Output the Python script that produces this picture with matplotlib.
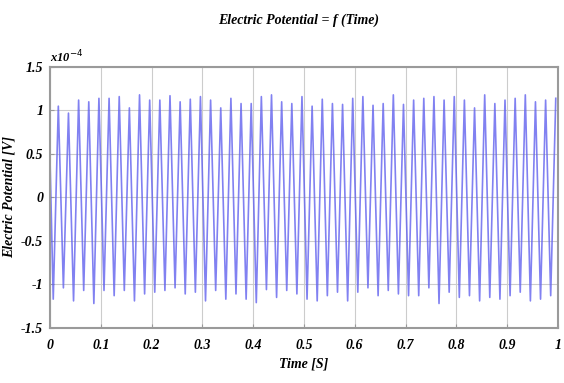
import matplotlib
matplotlib.use("Agg")
import matplotlib.pyplot as plt
import numpy as np

# signal extremes, in units of 1e-4 V
peaks_e4 = [1.05, 0.97, 1.12, 1.10, 1.14, 1.14, 1.16, 1.03, 1.18, 1.12,
            1.12, 1.17, 1.10, 1.13, 1.16, 1.12, 1.03, 1.14, 1.08, 1.08,
            1.16, 1.18, 1.10, 1.08, 1.16, 1.05, 1.13, 1.08, 1.07, 1.14,
            1.16, 1.06, 1.08, 1.18, 1.07, 1.12, 1.14, 1.16, 1.12, 1.16,
            1.12, 1.03, 1.18, 1.08, 1.12, 1.14, 1.18, 1.10, 1.12, 1.14]
troughs_e4 = [-1.17, -1.04, -1.19, -1.07, -1.22, -1.07, -1.13, -1.07, -1.19, -1.11,
              -1.09, -1.07, -1.04, -1.11, -1.09, -1.19, -1.07, -1.17, -1.11, -1.17,
              -1.21, -1.06, -1.15, -1.07, -1.11, -1.17, -1.19, -1.13, -1.09, -1.19,
              -1.09, -1.04, -1.13, -1.07, -1.11, -1.13, -1.13, -1.04, -1.22, -1.09,
              -1.15, -1.13, -1.19, -1.15, -1.17, -1.13, -1.09, -1.19, -1.17, -1.13]
start_value_e4 = 0.35
first_trough_t = 0.006   # s
half_period = 0.01       # s (50 Hz)

x_ticks = [0, 0.1, 0.2, 0.3, 0.4, 0.5, 0.6, 0.7, 0.8, 0.9, 1]
x_labels = ["0", "0.1", "0.2", "0.3", "0.4", "0.5", "0.6", "0.7", "0.8", "0.9", "1"]
y_ticks = [-1.5, -1, -0.5, 0, 0.5, 1, 1.5]
y_labels = ["-1.5", "-1", "-0.5", "0", "0.5", "1", "1.5"]

# interleave trough / peak samples
values = [start_value_e4]
for tr, pk in zip(troughs_e4, peaks_e4):
    values += [tr, pk]
t = np.concatenate([[0.0], first_trough_t + half_period * np.arange(len(values) - 1)])

font = dict(family="Liberation Serif", style="italic", weight="bold")

fig = plt.figure(figsize=(5.64, 3.83), dpi=100)
ax = fig.add_axes([0.089, 0.144, 0.900, 0.681])

ax.plot(t, values, color="#6262ee", lw=1.2, alpha=0.8)

ax.set_xlim(0, 1)
ax.set_ylim(-1.5, 1.5)
ax.set_xticks(x_ticks)
ax.set_xticklabels(x_labels, **font, fontsize=10)
ax.set_yticks(y_ticks)
ax.set_yticklabels(y_labels, **font, fontsize=10)
ax.tick_params(direction="in", length=3, color="#999999", pad=5)
ax.tick_params(axis="x", pad=8)
ax.grid(True, color="#cccccc", lw=0.8)
for s in ax.spines.values():
    s.set_color("#9a9a9a")
    s.set_linewidth(1.5)

ax.set_xlabel("Time [S]", **font, fontsize=10, labelpad=4)
ax.set_ylabel("Electric Potential [V]", **font, fontsize=10, labelpad=4)
fig.text(0.53, 0.948, "Electric Potential = f (Time)", ha="center", va="center",
         **font, fontsize=10)
ax.text(0.0, 1.005, "x10$^{-4}$", transform=ax.transAxes, ha="left", va="bottom",
        **font, fontsize=9)

fig.savefig("out.png", dpi=100)
